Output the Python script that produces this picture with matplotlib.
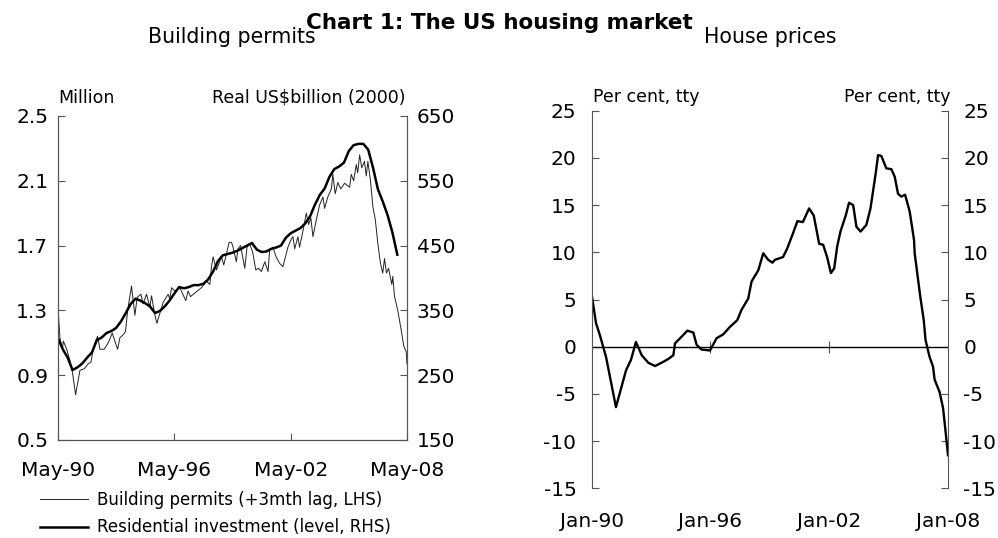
import numpy as np
import matplotlib.pyplot as plt

plt.rcParams['font.family'] = ['DejaVu Sans']
plt.rcParams['axes.unicode_minus'] = False

# --- Building permits (+3mth lag), million, months since May-90 ---
permit_months = [0, 1.2, 2.7, 3.3, 5.4, 7.4, 8.9, 10.9, 13.6, 16.3, 18.7, 20.4, 21.8, 23.3,
                 24.5, 26, 28.6, 31.1, 33.6, 35.2, 36.9, 38.3, 40.4, 41.8, 43.1, 45.5, 47.6,
                 49, 51.3, 52.7, 54.8, 56.9, 57.9, 60, 61.2, 63, 65.1, 68.2, 69.2, 70.3, 72.3,
                 75.4, 79.1, 80.5, 82, 85.7, 88.8, 91.9, 94, 95, 96, 98.1, 101.2, 102.6, 104.3,
                 105.9, 107.4, 108.4, 110.4, 111.4, 113, 115.6, 117, 118.7, 120.5, 122.4, 124,
                 125.9, 128, 130, 131, 133, 135, 137.2, 139.2, 141.3, 142.3, 144.4, 145.4,
                 146.5, 148.5, 149.5, 151.6, 153.7, 155.1, 156.5, 157.8, 159.9, 161.9, 164,
                 165, 167, 169.2, 170.1, 171.6, 173.2, 175, 177.4, 180.5, 181.5, 183, 184.6,
                 185.5, 186.7, 188, 189.7, 190.8, 191.8, 193.4, 194.9, 196.4, 198, 199.6, 201,
                 202.1, 203.3, 204.6, 206.6, 207.2, 208.3, 210.3, 212.4, 214, 215.5, 216]
permit_values = [1.32, 1.13, 1.06, 1.11, 1.06, 0.99, 0.92, 0.78, 0.93, 0.94, 0.97, 0.98, 1.06, 1.11,
                 1.14, 1.06, 1.06, 1.10, 1.16, 1.11, 1.06, 1.13, 1.15, 1.17, 1.30, 1.45, 1.27,
                 1.38, 1.40, 1.34, 1.40, 1.32, 1.39, 1.27, 1.22, 1.28, 1.35, 1.40, 1.37, 1.44, 1.42,
                 1.44, 1.36, 1.42, 1.385, 1.415, 1.44, 1.48, 1.46, 1.57, 1.63, 1.55, 1.63, 1.58, 1.65,
                 1.72, 1.72, 1.69, 1.60, 1.68, 1.70, 1.56, 1.69, 1.71, 1.66, 1.55, 1.56,
                 1.54, 1.60, 1.54, 1.67, 1.69, 1.63, 1.59, 1.57, 1.65, 1.69, 1.74, 1.755,
                 1.68, 1.755, 1.69, 1.79, 1.90, 1.83, 1.87, 1.755, 1.86, 1.95, 2.00,
                 1.93, 2.00, 2.05, 2.14, 2.02, 2.09, 2.05, 2.085, 2.06, 2.14, 2.10, 2.20,
                 2.15, 2.26, 2.18, 2.22, 2.13, 2.22, 2.10, 1.94, 1.86, 1.71, 1.59, 1.53,
                 1.62, 1.53, 1.56, 1.46, 1.51, 1.385, 1.30, 1.18, 1.08, 1.045, 0.97]

# --- Residential investment, real US$bn (2000), quarterly ---
resinv_months = np.arange(0, 211, 3)
resinv_values = [307, 290, 277, 258, 262, 268, 277, 285, 304, 308,
                 315, 318, 323, 333, 346, 360, 368, 365, 361, 356,
                 346, 349, 356, 365, 376, 386, 384, 386, 389, 389,
                 391, 398, 410, 426, 435, 437, 439, 442, 446, 450,
                 454, 444, 440, 441, 445, 447, 450, 462, 469, 473,
                 477, 484, 495, 513, 528, 538, 556, 568, 572, 578,
                 596, 605, 607, 607, 598, 570, 537, 518, 497, 470,
                 436]

# --- House prices, per cent tty, months since Jan-90 ---
hp_months = [0, 2.6, 5, 8.7, 14.7, 20.8, 23.8, 26.8, 30.3, 34.3, 38.4, 43.4, 46.4, 49.5,
             50.5, 54.5, 58, 61.6, 63.6, 66.6, 71.7, 75.7, 79.7, 83.8, 88.2, 90.8, 94.9,
             96.9, 101, 104, 107, 109.6, 111, 116, 118.5, 122, 124.7, 128, 131.8, 134.6,
             137.9, 140.3, 142.7, 145, 147, 148.8, 150.8, 154, 156, 158.5, 160.5, 163,
             166.5, 169, 172.2, 173.6, 175.6, 178.6, 181.7, 183.7, 185.7, 187.7, 190,
             192.8, 195.4, 195.8, 199.2, 201.3, 202.4, 204.8, 206.9, 207.9, 210.9, 213,
             214, 216]
hp_values = [5.5, 2.5, 1.2, -1.1, -6.4, -2.5, -1.4, 0.5, -0.9, -1.7, -2.05, -1.6, -1.3, -0.9,
             0.35, 1.06, 1.7, 1.5, 0.2, -0.3, -0.4, 0.9, 1.3, 2.1, 2.8, 3.9, 5.1,
             6.9, 8.1, 9.9, 9.2, 8.9, 9.2, 9.5, 10.4, 12.0, 13.3, 13.2, 14.65, 13.9,
             10.9, 10.8, 9.5, 7.8, 8.3, 10.6, 12.2, 13.9, 15.25, 15.0, 12.7, 12.2,
             12.9, 14.65, 18.4, 20.3, 20.2, 18.9, 18.8, 18.0, 16.2, 15.9, 16.1,
             14.3, 11.3, 9.9, 5.3, 2.8, 0.7, -1.06, -2.1, -3.5, -4.8, -6.5,
             -8.1, -11.5]

left_ticks = [0.5, 0.9, 1.3, 1.7, 2.1, 2.5]
rhs_ticks = [150, 250, 350, 450, 550, 650]
left_xlabels = ['May-90', 'May-96', 'May-02', 'May-08']
hp_ticks = [-15, -10, -5, 0, 5, 10, 15, 20, 25]
right_xlabels = ['Jan-90', 'Jan-96', 'Jan-02', 'Jan-08']
xtick_pos = [0, 72, 144, 216]

fig = plt.figure(figsize=(9.98, 5.38), dpi=100)
FS = 14.5       # tick labels
FS_UNIT = 12.5  # unit labels
spine_col = '#555555'

# ---------------- left panel ----------------
ax1 = fig.add_axes([0.0581, 0.1822, 0.3497, 0.6022])
l1, = ax1.plot(permit_months, permit_values, color='#222222', lw=0.7)
ax1.set_xlim(0, 216)
ax1.set_ylim(0.5, 2.5)
ax1.set_yticks(left_ticks)
ax1.set_yticklabels([f'{v:.1f}' for v in left_ticks])
ax1.set_xticks(xtick_pos)
ax1.set_xticklabels(left_xlabels)
ax1.tick_params(direction='in', length=5, labelsize=FS, color=spine_col, pad=7)
ax1.tick_params(axis='x', pad=15)
ax1.spines['top'].set_visible(False)

ax2 = ax1.twinx()
l2, = ax2.plot(resinv_months, resinv_values, color='black', lw=1.8)
ax2.set_ylim(150, 650)
ax2.set_yticks(rhs_ticks)
ax2.tick_params(direction='in', length=5, labelsize=FS, color=spine_col, pad=7)
ax2.spines['top'].set_visible(False)
for ax in (ax1, ax2):
    for s in ax.spines.values():
        s.set_color(spine_col)

fig.text(0.0581, 0.8086, 'Million', fontsize=FS_UNIT, ha='left', va='baseline')
fig.text(0.406, 0.8086, 'Real US$billion (2000)', fontsize=FS_UNIT, ha='right', va='baseline')

fig.legend([l1, l2], ['Building permits (+3mth lag, LHS)', 'Residential investment (level, RHS)'],
           loc='upper left', bbox_to_anchor=(0.040, 0.087), frameon=False, fontsize=12,
           handlelength=2.9, handletextpad=0.5, labelspacing=0.55, borderaxespad=0,
           borderpad=0)

# ---------------- right panel ----------------
ax3 = fig.add_axes([0.5929, 0.0924, 0.357, 0.7018])
ax3.plot(hp_months, hp_values, color='black', lw=1.7)
ax3.set_xlim(0, 216)
ax3.set_ylim(-15, 25)
ax3.set_yticks(hp_ticks)
ax3.tick_params(axis='y', direction='in', length=5, labelsize=FS, color=spine_col,
                left=True, right=True, labelleft=True, labelright=True, pad=11)
ax3.set_xticks(xtick_pos)
ax3.set_xticklabels(right_xlabels)
ax3.tick_params(axis='x', length=0, labelsize=FS, pad=17)
ax3.spines['top'].set_visible(False)
ax3.spines['bottom'].set_visible(False)
for s in ax3.spines.values():
    s.set_color(spine_col)
ax3.axhline(0, color='black', lw=1.0)
zero_axis = ax3.secondary_xaxis(15 / 40)
zero_axis.set_xticks(xtick_pos[1:3])
zero_axis.tick_params(direction='inout', length=8, labelbottom=False, color=spine_col)
zero_axis.spines['bottom'].set_visible(False)

fig.text(0.5939, 0.810, 'Per cent, tty', fontsize=FS_UNIT, ha='left', va='baseline')
fig.text(0.952, 0.810, 'Per cent, tty', fontsize=FS_UNIT, ha='right', va='baseline')

# ---------------- titles ----------------
fig.text(0.5, 0.946, 'Chart 1: The US housing market', fontsize=15.5, fontweight='bold',
         ha='center', va='baseline')
fig.text(0.2325, 0.920, 'Building permits', fontsize=14.8, ha='center', va='baseline')
fig.text(0.772, 0.920, 'House prices', fontsize=14.8, ha='center', va='baseline')

fig.savefig('out.png', dpi=100)
